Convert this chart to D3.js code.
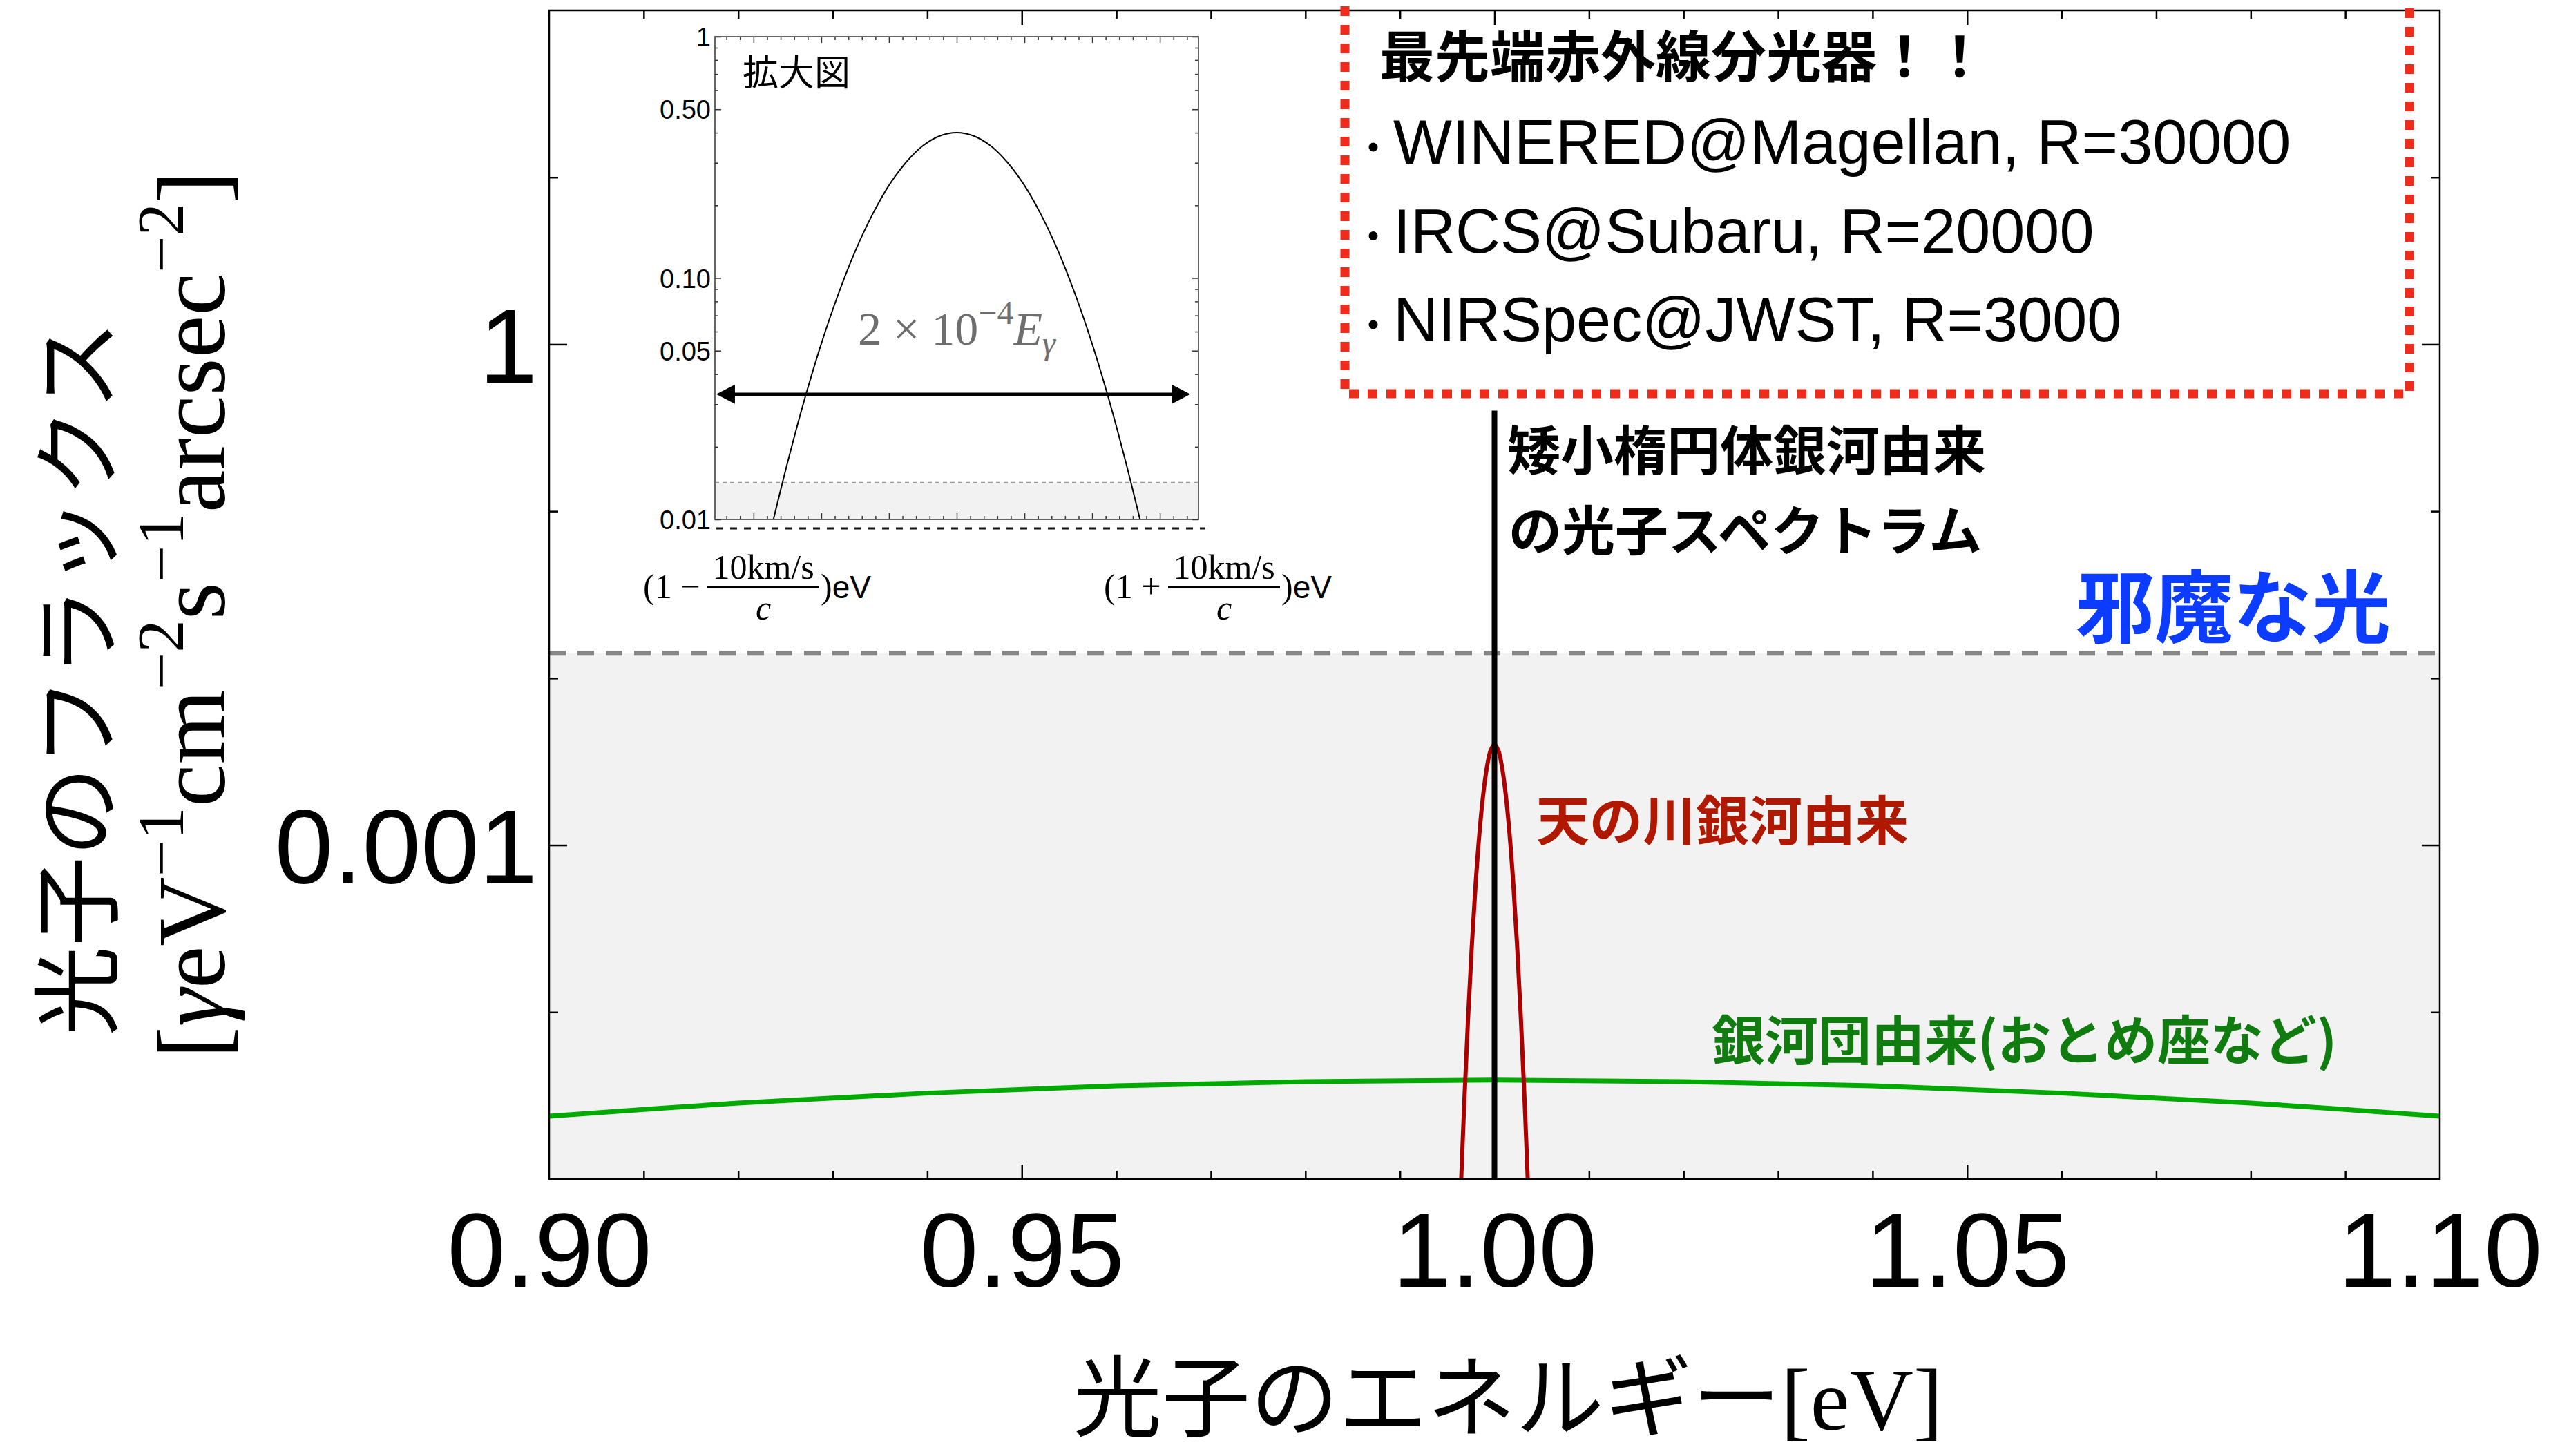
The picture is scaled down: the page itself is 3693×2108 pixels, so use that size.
<!DOCTYPE html>
<html lang="ja">
<head>
<meta charset="UTF-8">
<title>光子のフラックス</title>
<script src="https://d3js.org/d3.v7.min.js"></script>
<style>
  html, body { margin: 0; padding: 0; background: #fff; }
  svg { display: block; }
</style>
</head>
<body>
<svg id="chart"></svg>
<script>
var W = 3693, H = 2108;
var SANS = '"Liberation Sans", Arial, Helvetica, sans-serif';
var SERIF = '"Liberation Serif", "Times New Roman", serif';
var JP = '"Noto Sans CJK JP", "Noto Sans CJK SC", sans-serif';

// ---- main plot data ----
var xDomain = [0.90, 1.10];
var yDomain = [1e-5, 100];
var xTickLabels = [0.90, 0.95, 1.00, 1.05, 1.10];
var xMajorTicks = [0.95, 1.00, 1.05];
var xMinorTicks = [0.91, 0.92, 0.93, 0.94, 0.96, 0.97, 0.98, 0.99, 1.01, 1.02, 1.03, 1.04, 1.06, 1.07, 1.08, 1.09];
var yTickLabels = [1, 0.001];
var yMinorTicks = [10, 0.1, 0.01, 1e-4];
var backgroundLevel = 0.0141;      // 邪魔な光
var dwarfLineX = 1.00;             // 矮小楕円体銀河
var dwarfLineTop = 0.40;

// 天の川銀河由来
var mwX = [0.9964, 0.9968, 0.9972, 0.9976, 0.9980, 0.9984, 0.9988, 0.9992, 0.9996, 1.0000,
           1.0004, 1.0008, 1.0012, 1.0016, 1.0020, 1.0024, 1.0028, 1.0032, 1.0036];
var mwY = [7.6e-6, 2.83e-5, 9.03e-5, 2.47e-4, 5.78e-4, 1.16e-3, 1.99e-3, 2.93e-3, 3.70e-3, 4.00e-3,
           3.70e-3, 2.93e-3, 1.99e-3, 1.16e-3, 5.78e-4, 2.47e-4, 9.03e-5, 2.83e-5, 7.6e-6];

// 銀河団由来
var clusterX = [0.90, 0.92, 0.94, 0.96, 0.98, 1.00, 1.02, 1.04, 1.06, 1.08, 1.10];
var clusterY = [2.38e-5, 2.85e-5, 3.27e-5, 3.62e-5, 3.83e-5, 3.91e-5, 3.83e-5, 3.62e-5, 3.27e-5, 2.85e-5, 2.38e-5];

// ---- inset (拡大図) data, x in units of 1e-5 eV from 1 eV ----
var insetXDomain = [-7.14, 7.14];
var insetYDomain = [0.01, 1];
var insetTickLabels = [1, 0.5, 0.1, 0.05, 0.01];
var insetMinorY = [0.9, 0.8, 0.7, 0.6, 0.4, 0.3, 0.2, 0.09, 0.08, 0.07, 0.06, 0.04, 0.03, 0.02];
var insetMajorX = [-6, -4, -2, 0, 2, 4, 6];
var insetX = [-5.5, -5, -4.5, -4, -3.5, -3, -2.5, -2, -1.5, -1, -0.5, 0, 0.5, 1, 1.5, 2, 2.5, 3, 3.5, 4, 4.5, 5, 5.5];
var insetY = [0.0089, 0.0171, 0.0312, 0.0534, 0.0855, 0.129, 0.182, 0.242, 0.301, 0.353, 0.388, 0.400,
              0.388, 0.353, 0.301, 0.242, 0.182, 0.129, 0.0855, 0.0534, 0.0312, 0.0171, 0.0089];
var insetBackground = 0.0142;
var insetArrowX = [-7.1, 6.9];
var insetArrowY = 0.033;

var instruments = ["WINERED@Magellan, R=30000", "IRCS@Subaru, R=20000", "NIRSpec@JWST, R=3000"];

// ---- layout ----
var svg = d3.select("#chart").attr("width", W).attr("height", H);
var plot = {left: 795, right: 3532, top: 15, bottom: 1707};
var x = d3.scaleLinear().domain(xDomain).range([plot.left, plot.right]);
var y = d3.scaleLog().domain(yDomain).range([plot.bottom, plot.top]);

var defs = svg.append("defs");
defs.append("clipPath").attr("id", "plotClip").append("rect")
  .attr("x", plot.left).attr("y", plot.top)
  .attr("width", plot.right - plot.left).attr("height", plot.bottom - plot.top);

// background light region
svg.append("rect")
  .attr("x", plot.left).attr("y", y(backgroundLevel))
  .attr("width", plot.right - plot.left).attr("height", plot.bottom - y(backgroundLevel))
  .attr("fill", "#f2f2f2");
svg.append("line")
  .attr("x1", plot.left).attr("x2", plot.right)
  .attr("y1", y(backgroundLevel)).attr("y2", y(backgroundLevel))
  .attr("stroke", "#878787").attr("stroke-width", 7).attr("stroke-dasharray", "24,17");

var line = d3.line().x(function(d) { return x(d[0]); }).y(function(d) { return y(d[1]); })
  .curve(d3.curveCatmullRom);
var pg = svg.append("g").attr("clip-path", "url(#plotClip)");
pg.append("path").datum(d3.zip(clusterX, clusterY)).attr("d", line)
  .attr("fill", "none").attr("stroke", "#00aa00").attr("stroke-width", 7);
pg.append("path").datum(d3.zip(mwX, mwY)).attr("d", line)
  .attr("fill", "none").attr("stroke", "#aa0000").attr("stroke-width", 6);
pg.append("line")
  .attr("x1", x(dwarfLineX)).attr("x2", x(dwarfLineX))
  .attr("y1", plot.bottom).attr("y2", y(dwarfLineTop))
  .attr("stroke", "#000").attr("stroke-width", 8);

// frame
svg.append("rect")
  .attr("x", plot.left).attr("y", plot.top)
  .attr("width", plot.right - plot.left).attr("height", plot.bottom - plot.top)
  .attr("fill", "none").attr("stroke", "#000").attr("stroke-width", 2.5);

function ticks(parent, axis, pos, values, size, color, width) {
  var g = parent.append("g").attr("transform", pos)
    .call(axis.tickValues(values).tickSize(size).tickSizeOuter(0).tickFormat(""));
  g.select(".domain").remove();
  g.selectAll("line").attr("stroke", color).attr("stroke-width", width);
  return g;
}
ticks(svg, d3.axisBottom(x), "translate(0," + plot.bottom + ")", xMinorTicks, -12, "#000", 2.5);
ticks(svg, d3.axisBottom(x), "translate(0," + plot.bottom + ")", xMajorTicks, -21, "#000", 2.5);
ticks(svg, d3.axisTop(x), "translate(0," + plot.top + ")", xMinorTicks, -12, "#000", 2.5);
ticks(svg, d3.axisTop(x), "translate(0," + plot.top + ")", xMajorTicks, -21, "#000", 2.5);
ticks(svg, d3.axisLeft(y), "translate(" + plot.left + ",0)", yMinorTicks, -13, "#000", 2.5);
ticks(svg, d3.axisLeft(y), "translate(" + plot.left + ",0)", yTickLabels, -26, "#000", 2.5);
ticks(svg, d3.axisRight(y), "translate(" + plot.right + ",0)", yMinorTicks, -13, "#000", 2.5);
ticks(svg, d3.axisRight(y), "translate(" + plot.right + ",0)", yTickLabels, -26, "#000", 2.5);

// tick labels
var xl = svg.append("g").attr("transform", "translate(0," + plot.bottom + ")")
  .call(d3.axisBottom(x).tickValues(xTickLabels).tickSize(0).tickPadding(48).tickFormat(d3.format(".2f")));
xl.select(".domain").remove();
xl.selectAll("text").attr("font-family", SANS).attr("font-size", 152).attr("fill", "#000");

var yl = svg.append("g").attr("transform", "translate(" + plot.left + ",0)")
  .call(d3.axisLeft(y).tickValues(yTickLabels).tickSize(0).tickPadding(17).tickFormat(d3.format("~g")));
yl.select(".domain").remove();
yl.selectAll("text").attr("font-family", SANS).attr("font-size", 152).attr("fill", "#000").attr("dy", "0.36em");

// axis titles
var xt = svg.append("text").attr("x", 1554).attr("y", 2070).attr("font-size", 128).attr("fill", "#000");
xt.append("tspan").attr("font-family", JP).text("光子のエネルギー");
xt.append("tspan").attr("font-family", SERIF).text("[eV]");

svg.append("text").attr("transform", "translate(159,982) rotate(-90)")
  .attr("text-anchor", "middle").attr("font-family", JP).attr("font-size", 130).attr("fill", "#000")
  .text("光子のフラックス");

var yt2 = svg.append("text").attr("transform", "translate(325,890) rotate(-90)")
  .attr("text-anchor", "middle").attr("font-family", SERIF).attr("font-size", 139).attr("fill", "#000");
var unitParts = [["[", 0, 0], ["γ", 0, 1], ["eV", 0, 0], ["−1", 1, 0], ["cm", 0, 0], ["−2", 1, 0],
                 ["s", 0, 0], ["−1", 1, 0], ["arcsec", 0, 0], ["−2", 1, 0], ["]", 0, 0]];
var raised = false;
unitParts.forEach(function(p) {
  var t = yt2.append("tspan").text(p[0]);
  if (p[1] && !raised) { t.attr("dy", -60).attr("font-size", 95); raised = true; }
  else if (p[1]) { t.attr("font-size", 95); }
  else if (raised) { t.attr("dy", 60); raised = false; }
  if (p[2]) t.attr("font-style", "italic");
});

// ---- inset ----
var ib = {left: 1035, right: 1735, top: 53, bottom: 752};
var ix = d3.scaleLinear().domain(insetXDomain).range([ib.left, ib.right]);
var iy = d3.scaleLog().domain(insetYDomain).range([ib.bottom, ib.top]);
var inset = svg.append("g");
defs.append("clipPath").attr("id", "insetClip").append("rect")
  .attr("x", ib.left).attr("y", ib.top).attr("width", ib.right - ib.left).attr("height", ib.bottom - ib.top);

inset.append("rect").attr("x", ib.left).attr("y", ib.top)
  .attr("width", ib.right - ib.left).attr("height", ib.bottom - ib.top).attr("fill", "#fff");
inset.append("rect").attr("x", ib.left).attr("y", iy(insetBackground))
  .attr("width", ib.right - ib.left).attr("height", ib.bottom - iy(insetBackground)).attr("fill", "#f2f2f2");
inset.append("line").attr("x1", ib.left).attr("x2", ib.right)
  .attr("y1", iy(insetBackground)).attr("y2", iy(insetBackground))
  .attr("stroke", "#999").attr("stroke-width", 2).attr("stroke-dasharray", "6,5");

var iline = d3.line().x(function(d) { return ix(d[0]); }).y(function(d) { return iy(d[1]); })
  .curve(d3.curveCatmullRom);
inset.append("g").attr("clip-path", "url(#insetClip)").append("path")
  .datum(d3.zip(insetX, insetY)).attr("d", iline)
  .attr("fill", "none").attr("stroke", "#000").attr("stroke-width", 2);

inset.append("rect").attr("x", ib.left).attr("y", ib.top)
  .attr("width", ib.right - ib.left).attr("height", ib.bottom - ib.top)
  .attr("fill", "none").attr("stroke", "#666").attr("stroke-width", 2);

var insetMinorX = d3.range(-6.8, 6.85, 0.4).filter(function(v) { return Math.abs(v / 2 - Math.round(v / 2)) > 0.01; });
ticks(inset, d3.axisBottom(ix), "translate(0," + ib.bottom + ")", insetMinorX, -5, "#333", 1.5);
ticks(inset, d3.axisBottom(ix), "translate(0," + ib.bottom + ")", insetMajorX, -9, "#333", 1.5);
ticks(inset, d3.axisTop(ix), "translate(0," + ib.top + ")", insetMinorX, -5, "#333", 1.5);
ticks(inset, d3.axisTop(ix), "translate(0," + ib.top + ")", insetMajorX, -9, "#333", 1.5);
ticks(inset, d3.axisLeft(iy), "translate(" + ib.left + ",0)", insetMinorY, -5, "#333", 1.5);
ticks(inset, d3.axisLeft(iy), "translate(" + ib.left + ",0)", insetTickLabels, -9, "#333", 1.5);
ticks(inset, d3.axisRight(iy), "translate(" + ib.right + ",0)", insetMinorY, -5, "#333", 1.5);
ticks(inset, d3.axisRight(iy), "translate(" + ib.right + ",0)", insetTickLabels, -9, "#333", 1.5);

var il = inset.append("g").attr("transform", "translate(" + ib.left + ",0)")
  .call(d3.axisLeft(iy).tickValues(insetTickLabels).tickSize(0).tickPadding(6)
    .tickFormat(function(d) { return d === 1 ? "1" : d3.format(".2f")(d); }));
il.select(".domain").remove();
il.selectAll("text").attr("font-family", SANS).attr("font-size", 38).attr("fill", "#000").attr("dy", "0.36em");

// black dashes under inset
inset.append("line").attr("x1", ib.left + 2).attr("x2", ib.right + 10)
  .attr("y1", 765).attr("y2", 765)
  .attr("stroke", "#111").attr("stroke-width", 3).attr("stroke-dasharray", "10,10");

inset.append("text").attr("x", 1075).attr("y", 124)
  .attr("font-family", JP).attr("font-size", 52).attr("fill", "#000").text("拡大図");

// arrow
var ax0 = ix(insetArrowX[0]), ax1 = ix(insetArrowX[1]), ay = iy(insetArrowY);
inset.append("line").attr("x1", ax0 + 20).attr("x2", ax1 - 20).attr("y1", ay).attr("y2", ay)
  .attr("stroke", "#000").attr("stroke-width", 4.5);
inset.append("path").attr("d", d3.line()([[ax0, ay], [ax0 + 27, ay - 14], [ax0 + 27, ay + 14]]) + "Z").attr("fill", "#000");
inset.append("path").attr("d", d3.line()([[ax1, ay], [ax1 - 27, ay - 14], [ax1 - 27, ay + 14]]) + "Z").attr("fill", "#000");

var wt = inset.append("text").attr("x", 1242).attr("y", 499)
  .attr("font-family", SERIF).attr("font-size", 68).attr("fill", "#6e6e6e");
wt.append("tspan").text("2 × 10");
wt.append("tspan").attr("font-size", 48).attr("dy", -30).text("−4");
wt.append("tspan").attr("font-style", "italic").attr("dy", 30).text("E");
wt.append("tspan").attr("font-style", "italic").attr("font-size", 48).attr("dy", 14).text("γ");

function velocityLabel(x0, sign) {
  var g = inset.append("g");
  g.append("text").attr("x", x0).attr("y", 866).attr("font-family", SERIF).attr("font-size", 50)
    .attr("fill", "#000").text("(1 " + sign);
  var fx0 = x0 + 93, fx1 = fx0 + 162, fc = (fx0 + fx1) / 2;
  g.append("line").attr("x1", fx0).attr("x2", fx1).attr("y1", 850).attr("y2", 850)
    .attr("stroke", "#000").attr("stroke-width", 3.5);
  g.append("text").attr("x", fc).attr("y", 838).attr("text-anchor", "middle")
    .attr("font-family", SERIF).attr("font-size", 50).attr("fill", "#000").text("10km/s");
  g.append("text").attr("x", fc).attr("y", 897).attr("text-anchor", "middle")
    .attr("font-family", SERIF).attr("font-style", "italic").attr("font-size", 50).attr("fill", "#000").text("c");
  var t = g.append("text").attr("x", fx1 + 2).attr("y", 866).attr("fill", "#000");
  t.append("tspan").attr("font-family", SERIF).attr("font-size", 50).text(")");
  t.append("tspan").attr("font-family", SANS).attr("font-size", 46).text("eV");
}
velocityLabel(931, "−");
velocityLabel(1598, "+");

// ---- instrument box ----
svg.append("rect").attr("x", 1947).attr("y", -40).attr("width", 3488 - 1947).attr("height", 570 + 40)
  .attr("fill", "none").attr("stroke", "#ef2b1c").attr("stroke-width", 13).attr("stroke-dasharray", "14,13");
svg.append("text").attr("x", 1997).attr("y", 111)
  .attr("font-family", JP).attr("font-weight", 700).attr("font-size", 80).attr("fill", "#000")
  .text("最先端赤外線分光器！！");
instruments.forEach(function(name, i) {
  var by = 237 + i * 128.5;
  svg.append("circle").attr("cx", 1988).attr("cy", by - 24).attr("r", 6.5).attr("fill", "#000");
  svg.append("text").attr("x", 2017).attr("y", by)
    .attr("font-family", SANS).attr("font-size", 90).attr("fill", "#000").text(name);
});

// ---- annotations ----
function note(txt, x0, y0, size, color) {
  svg.append("text").attr("x", x0).attr("y", y0)
    .attr("font-family", JP).attr("font-weight", 700).attr("font-size", size).attr("fill", color).text(txt);
}
note("矮小楕円体銀河由来", 2182, 681, 77, "#000");
note("の光子スペクトラム", 2184, 797, 77, "#000");
note("邪魔な光", 3005, 921, 114, "#0b3cff");
note("天の川銀河由来", 2224, 1217, 77, "#b01800");
note("銀河団由来(おとめ座など)", 2478, 1535, 77, "#107c10");
</script>
</body>
</html>
